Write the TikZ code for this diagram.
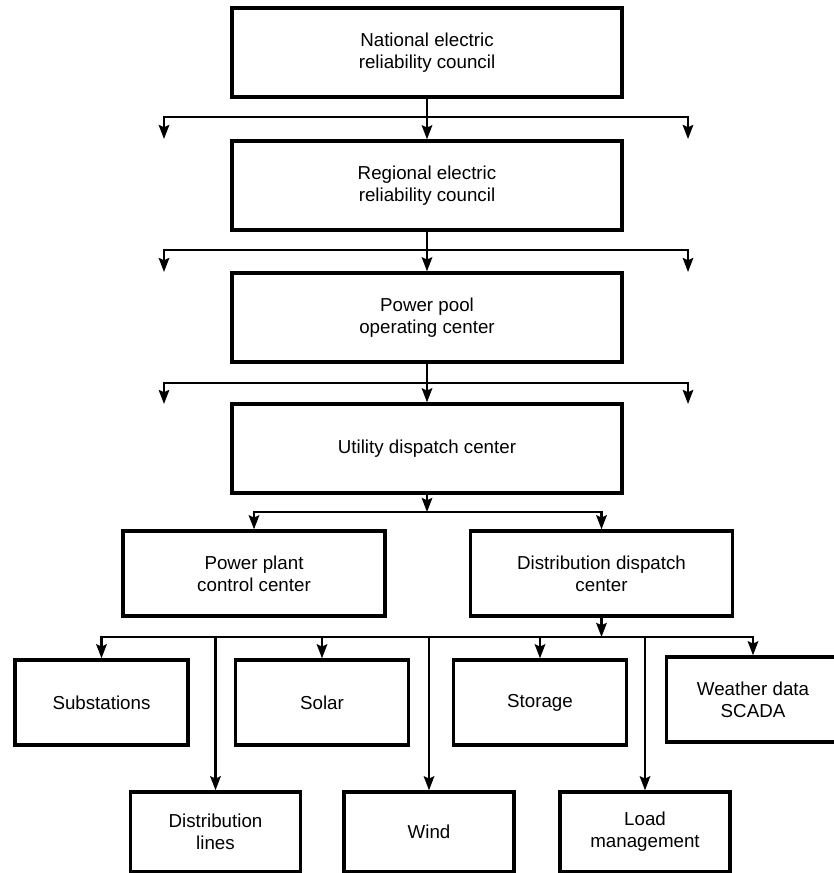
\documentclass[tikz,border=0pt]{standalone}
\usepackage{fontspec}
\setmainfont{Liberation Sans}
\usetikzlibrary{arrows.meta}
\tikzset{
  box/.style={draw, line width=2.9pt, align=center, inner sep=0pt,
    font=\fontsize{16}{19}\selectfont},
  level/.style={box, minimum width=11.7cm, minimum height=2.67cm},
  center/.style={box, minimum width=7.86cm, minimum height=2.55cm},
  leaf/.style={box, minimum width=5.2cm, minimum height=2.55cm},
  lowleaf/.style={box, minimum width=5.1cm, minimum height=2.4cm},
  link/.style={line width=2pt},
}

\begin{document}
\begin{tikzpicture}[x=0.03cm, y=-0.03cm, >={Stealth[length=12pt,width=9pt,inset=2pt]}]
  \useasboundingbox (0,0) rectangle (833,873);

  % Council levels
  \node[level] (nerc) at (427,52.5) {National electric\\reliability council};
  \node[level] (rerc) at (427,185.5) {Regional electric\\reliability council};
  \node[level] (pool) at (427,317.5) {Power pool\\operating center};
  \node[level] (udc) at (427,448.5) {Utility dispatch center};

  % Centers
  \node[center] (plant) at (254,573.5) {Power plant\\control center};
  \node[center] (ddc) at (601.5,573.5) {Distribution dispatch\\center};

  % Leaves
  \node[leaf] (subst) at (101.5,702.5) {Substations};
  \node[leaf] (solar) at (322,702.5) {Solar};
  \node[leaf] (storage) at (540,702.5) {Storage};
  \node[leaf] (weather) at (753,699.5) {Weather data\\SCADA};
  \node[lowleaf] (lines) at (215.5,832) {Distribution\\lines};
  \node[lowleaf] (wind) at (429,832) {Wind};
  \node[lowleaf] (load) at (645,832) {Load\\management};

  % Bus lines and side arrows
  \coordinate (bus1) at (0,117);
  \coordinate (bus2) at (0,250);
  \coordinate (bus3) at (0,383);
  \coordinate (bus4) at (0,512);
  \coordinate (bus5) at (0,637);
  \coordinate (l1) at (164,139);
  \coordinate (r1) at (688,139);
  \coordinate (l2) at (164,272);
  \coordinate (r2) at (688,272);
  \coordinate (l3) at (164,404);
  \coordinate (r3) at (688,404);

  \draw[link,->] (nerc) -- (rerc);
  \draw[link,<->] (l1) -- (l1 |- bus1) -- (r1 |- bus1) -- (r1);
  \draw[link,->] (rerc) -- (pool);
  \draw[link,<->] (l2) -- (l2 |- bus2) -- (r2 |- bus2) -- (r2);
  \draw[link,->] (pool) -- (udc);
  \draw[link,<->] (l3) -- (l3 |- bus3) -- (r3 |- bus3) -- (r3);

  % Utility to centers
  \draw[link,->] (udc) -- (udc.south |- bus4);
  \draw[link,<->] (plant) -- (plant.north |- bus4) -- (ddc.north |- bus4) -- (ddc);

  % Distribution dispatch to leaves
  \draw[link,->] (ddc) -- (ddc.south |- bus5);
  \draw[link,<->] (subst) -- (subst.north |- bus5) -- (weather.north |- bus5) -- (weather);
  \draw[link,->] (solar.north |- bus5) -- (solar);
  \draw[link,->] (storage.north |- bus5) -- (storage);
  \draw[link,->] (lines.north |- bus5) -- (lines);
  \draw[link,->] (wind.north |- bus5) -- (wind);
  \draw[link,->] (load.north |- bus5) -- (load);
\end{tikzpicture}
\end{document}
